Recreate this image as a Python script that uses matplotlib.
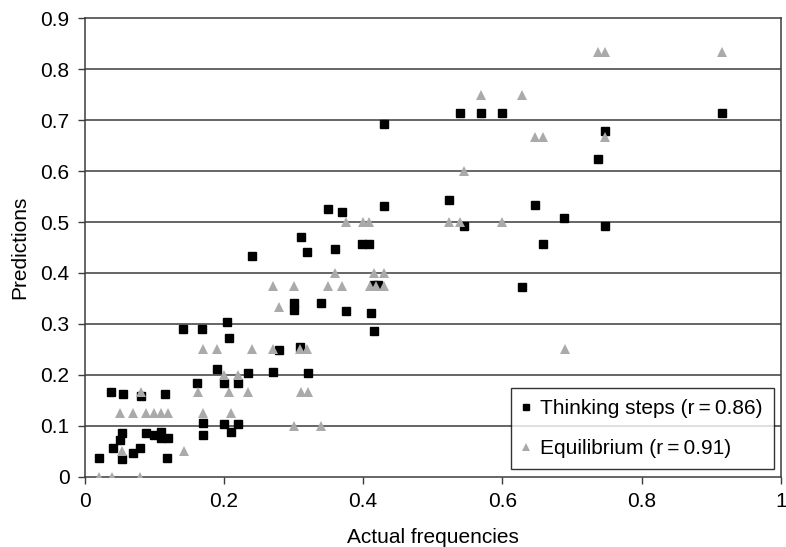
import matplotlib

matplotlib.use("Agg")
import matplotlib.pyplot as plt
import numpy as np

plt.rcParams["font.family"] = ["Liberation Sans", "DejaVu Sans"]
plt.rcParams["font.size"] = 15

# Thinking steps (black squares): actual frequency, prediction
steps_x = [
    0.020, 0.038, 0.040, 0.050, 0.053, 0.053, 0.055, 0.069, 0.080, 0.081,
    0.088, 0.100, 0.109, 0.110, 0.116, 0.118, 0.120, 0.141, 0.162, 0.169,
    0.170, 0.170, 0.190, 0.200, 0.200, 0.205, 0.207, 0.210, 0.220, 0.220,
    0.235, 0.240, 0.270, 0.279, 0.300, 0.300, 0.310, 0.311, 0.320, 0.321,
    0.340, 0.350, 0.359, 0.370, 0.375, 0.399, 0.408, 0.411, 0.415, 0.415,
    0.421, 0.430, 0.430, 0.524, 0.539, 0.545, 0.569, 0.600, 0.628, 0.647,
    0.659, 0.689, 0.738, 0.748, 0.748, 0.915,
]
steps_y = [
    0.037, 0.167, 0.056, 0.071, 0.085, 0.035, 0.163, 0.046, 0.056, 0.159,
    0.085, 0.081, 0.088, 0.076, 0.163, 0.037, 0.076, 0.289, 0.184, 0.289,
    0.105, 0.081, 0.211, 0.184, 0.103, 0.303, 0.273, 0.088, 0.184, 0.103,
    0.204, 0.434, 0.205, 0.248, 0.340, 0.327, 0.255, 0.471, 0.441, 0.203,
    0.340, 0.525, 0.447, 0.519, 0.326, 0.457, 0.457, 0.322, 0.286, 0.377,
    0.377, 0.693, 0.532, 0.543, 0.715, 0.492, 0.715, 0.715, 0.373, 0.534,
    0.456, 0.508, 0.623, 0.678, 0.492, 0.715,
]

# Equilibrium (grey triangles)
equil_x = [
    0.020, 0.039, 0.080, 0.054, 0.142, 0.050, 0.069, 0.088, 0.100, 0.110,
    0.119, 0.170, 0.210, 0.081, 0.163, 0.207, 0.235, 0.311, 0.321, 0.200,
    0.220, 0.170, 0.190, 0.240, 0.270, 0.310, 0.320, 0.300, 0.340, 0.279,
    0.270, 0.300, 0.350, 0.370, 0.410, 0.418, 0.430, 0.360, 0.416, 0.430,
    0.376, 0.400, 0.408, 0.524, 0.539, 0.600, 0.545, 0.647, 0.659, 0.748,
    0.570, 0.628, 0.737, 0.748, 0.915, 0.690,
]
equil_y = [
    0.000, 0.000, 0.000, 0.050, 0.050, 0.125, 0.125, 0.125, 0.125, 0.125,
    0.125, 0.125, 0.125, 0.167, 0.167, 0.167, 0.167, 0.167, 0.167, 0.200,
    0.200, 0.250, 0.250, 0.250, 0.250, 0.250, 0.250, 0.100, 0.100, 0.333,
    0.375, 0.375, 0.375, 0.375, 0.375, 0.375, 0.375, 0.400, 0.400, 0.400,
    0.500, 0.500, 0.500, 0.500, 0.500, 0.500, 0.600, 0.667, 0.667, 0.667,
    0.750, 0.750, 0.833, 0.833, 0.833, 0.250,
]

steps_label = "Thinking steps (r\u2009=\u20090.86)"
equil_label = "Equilibrium (r\u2009=\u20090.91)"

x_ticks = [0, 0.2, 0.4, 0.6, 0.8, 1]
x_ticklabels = ["0", "0.2", "0.4", "0.6", "0.8", "1"]
y_ticks = np.round(np.arange(0, 0.91, 0.1), 1)

fig = plt.figure(figsize=(7.86, 5.47), dpi=100)
ax = fig.add_axes([0.1078, 0.1287, 0.8855, 0.8378])

for yv in y_ticks[1:-1]:
    ax.axhline(yv, color="#3c3c3c", lw=1.1, zorder=1)

ax.plot(steps_x, steps_y, ls="none", marker="s", ms=6.2, color="black",
        label=steps_label, zorder=3)
ax.plot(equil_x, equil_y, ls="none", marker="^", ms=6.5, color="#aaaaaa",
        markeredgewidth=0, label=equil_label, zorder=4)

ax.set_xlim(0, 1)
ax.set_ylim(0, 0.9)
ax.set_xticks(x_ticks)
ax.set_xticklabels(x_ticklabels)
ax.set_yticks(y_ticks)
ax.set_yticklabels(["0"] + ["%.1f" % v for v in y_ticks[1:]])
ax.tick_params(direction="out", length=5, width=1, color="#3c3c3c", pad=6)
for s in ax.spines.values():
    s.set_color("#3c3c3c")
    s.set_linewidth(1.1)

ax.set_xlabel("Actual frequencies", labelpad=12)
ax.set_ylabel("Predictions", labelpad=8)

leg = ax.legend(loc="lower right", bbox_to_anchor=(0.99, 0.016), frameon=True,
                fancybox=False, edgecolor="black", markerscale=0.8,
                handlelength=0.4, handletextpad=0.45, borderpad=0.55,
                labelspacing=1.0, borderaxespad=0)
leg.get_frame().set_linewidth(1.0)

fig.savefig("out.png", dpi=100)
